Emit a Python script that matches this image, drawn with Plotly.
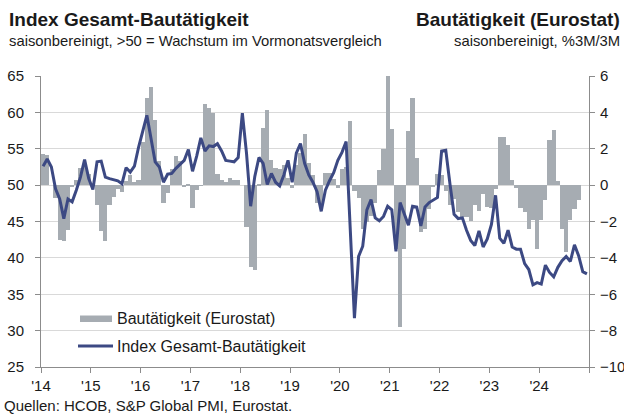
import plotly.graph_objects as go

# ---------------- data (monthly, Jan 2014 onwards) ----------------
start_year = 2014

pmi_index = [
    52.6, 53.6, 52.5, 49.5, 48.1, 45.4, 48.1, 47.7, 49.3, 51.1, 53.5, 50.9,   # 2014
    49.4, 53.2, 53.3, 51.1, 50.9, 50.7, 50.6, 50.2, 52.4, 51.8, 52.6, 55.2,   # 2015
    57.5, 59.6, 56.4, 53.2, 52.5, 50.4, 51.5, 51.6, 52.3, 52.8, 53.4, 54.9,   # 2016
    51.9, 54.0, 56.5, 54.7, 55.4, 55.3, 55.7, 54.7, 53.4, 53.3, 53.2, 53.8,   # 2017
    59.9, 54.4, 47.1, 51.2, 53.8, 53.0, 50.1, 51.6, 50.4, 49.9, 51.4, 53.4,   # 2018
    50.4, 54.4, 55.7, 53.0, 51.4, 50.4, 49.1, 46.4, 49.3, 50.6, 51.7, 53.4,   # 2019
    54.5, 56.0, 43.8, 31.7, 40.2, 41.6, 46.6, 48.0, 45.5, 45.1, 45.7, 47.1,   # 2020
    46.6, 40.9, 47.6, 46.1, 44.5, 47.1, 47.0, 44.4, 47.0, 47.6, 48.0, 48.3,   # 2021
    54.7, 54.8, 50.2, 46.0, 45.4, 45.5, 43.8, 42.4, 41.7, 43.7, 41.5, 42.6,   # 2022
    44.6, 48.6, 42.7, 42.0, 43.8, 41.5, 41.2, 41.2, 39.2, 38.4, 36.3, 36.6,   # 2023
    36.4, 39.0, 38.0, 37.4, 38.7, 39.6, 40.2, 39.5, 41.8, 40.3, 38.1, 37.8,   # 2024
]

eurostat = [
    1.72, 1.63, 0.0, -0.73, -3.0, -3.05, -2.44, -0.1, 0.26, 0.94, 1.12, 0.59,   # 2014
    0.0, -1.08, -2.5, -3.06, -1.08, -0.66, -0.22, -0.37, 0.22, 0.57, 0.17, 0.3,  # 2015
    2.37, 4.8, 5.4, 3.6, 1.3, -1.0, -0.46, 0.9, 1.6, 1.3, -0.13, 0.05,          # 2016
    -1.25, -0.28, -0.04, 4.44, 4.26, 3.94, 0.62, 0.28, 0.15, 0.37, 0.28, 0.28,   # 2017
    0.0, -2.28, -4.5, -4.65, 0.05, 3.13, 4.13, 1.38, 0.96, 0.9, 1.1, 0.37,       # 2018
    -0.18, 1.1, 1.75, 2.8, 1.2, 0.56, -1.0, -1.27, 0.65, 0.66, 0.33, -0.18,      # 2019
    0.9, 1.0, 3.5, -0.3, -0.7, -2.4, -2.0, -1.7, -1.0, 0.84, 1.97, 6.0,          # 2020
    3.07, -3.5, -7.8, -3.5, 3.0, 4.8, 1.5, -2.55, -2.4, -1.3, -0.1, 0.6,         # 2021
    0.55, -0.3, -1.1, -0.77, -1.47, -1.74, -1.74, -1.96, -1.1, -1.4, -0.5, -1.2, # 2022
    -1.28, -0.2, 2.66, 2.66, 2.2, 0.28, -0.15, -1.28, -1.47, -2.4, -1.9, -3.5,   # 2023
    -1.9, -0.8, 2.5, 3.05, 0.2, -2.4, -3.7, -1.9, -1.3, -0.8,                    # 2024
]

year_ticks = list(range(2014, 2026))
year_labels = ["'14", "'15", "'16", "'17", "'18", "'19", "'20", "'21", "'22", "'23", "'24", ""]
left_ticks = [25, 30, 35, 40, 45, 50, 55, 60, 65]
right_ticks = [-10, -8, -6, -4, -2, 0, 2, 4, 6]

name_bar = "Bautätigkeit (Eurostat)"
name_line = "Index Gesamt-Bautätigkeit"

# ---------------- style ----------------
FONT = "Liberation Sans, Arial, sans-serif"
BAR_COLOR = "#a6acb2"
LINE_COLOR = "#3c4983"
AXIS_COLOR = "#8c8c8c"
GRID_COLOR = "#d9d9d9"
TEXT = "#1a1a1a"

W, H = 624, 414
L, R, T, B = 41, 35, 76, 47


def px_x(px):
    return (px - L) / (W - L - R)


def px_y(py):
    return (H - B - py) / (H - T - B)


x_line = [start_year + (i + 0.5) / 12 for i in range(len(pmi_index))]
x_bar = [start_year + (i + 0.5) / 12 for i in range(len(eurostat))]

fig = go.Figure()
fig.add_trace(go.Bar(
    x=x_bar, y=eurostat, width=1 / 12, name=name_bar,
    marker=dict(color=BAR_COLOR, line=dict(width=0)),
    yaxis="y", showlegend=False, hoverinfo="skip",
))
fig.add_trace(go.Scatter(
    x=x_line, y=pmi_index, mode="lines", name=name_line,
    line=dict(color=LINE_COLOR, width=3),
    yaxis="y2", showlegend=False,
))

fig.update_layout(
    width=W, height=H, autosize=False,
    margin=dict(l=L, r=R, t=T, b=B, pad=0, autoexpand=False),
    paper_bgcolor="white", plot_bgcolor="white",
    font=dict(family=FONT, size=15, color=TEXT),
    bargap=0,
    xaxis=dict(
        range=[2014, 2025], tickvals=year_ticks, ticktext=year_labels, automargin=False,
        showgrid=False, zeroline=False, showline=True, linecolor=AXIS_COLOR, linewidth=1,
        ticks="outside", ticklen=5, tickcolor=AXIS_COLOR, tickfont=dict(size=15, color=TEXT),
        fixedrange=True,
    ),
    yaxis=dict(
        side="right", range=[-10, 6], tickvals=right_ticks, automargin=False,
        showgrid=True, gridcolor=GRID_COLOR, gridwidth=1, zeroline=False,
        showline=True, linecolor=AXIS_COLOR, linewidth=1,
        ticks="outside", ticklen=5, tickcolor=AXIS_COLOR, ticklabelstandoff=2,
        tickfont=dict(size=15, color=TEXT),
    ),
    yaxis2=dict(
        side="left", overlaying="y", range=[25, 65], tickvals=left_ticks, automargin=False,
        showgrid=False, zeroline=False,
        showline=True, linecolor=AXIS_COLOR, linewidth=1,
        ticks="outside", ticklen=5, tickcolor=AXIS_COLOR, ticklabelstandoff=8,
        tickfont=dict(size=15, color=TEXT),
    ),
    showlegend=False,
)

annotations = [
    dict(text="<b>Index Gesamt-Bautätigkeit</b>", x=px_x(7), y=px_y(19), xanchor="left", yanchor="middle",
         font=dict(size=19, color=TEXT)),
    dict(text="saisonbereinigt, >50 = Wachstum im Vormonatsvergleich", x=px_x(7), y=px_y(41),
         xanchor="left", yanchor="middle", font=dict(size=14.8, color=TEXT)),
    dict(text="<b>Bautätigkeit (Eurostat)</b>", x=px_x(622), y=px_y(19), xanchor="right", yanchor="middle",
         font=dict(size=19, color=TEXT)),
    dict(text="saisonbereinigt, %3M/3M", x=px_x(622), y=px_y(41), xanchor="right", yanchor="middle",
         font=dict(size=14.8, color=TEXT)),
    dict(text="Quellen: HCOB, S&P Global PMI, Eurostat.", x=px_x(2), y=px_y(405), xanchor="left",
         yanchor="middle", font=dict(size=15, color=TEXT)),
    dict(text=name_bar, x=px_x(115), y=px_y(318.5), xanchor="left", yanchor="middle",
         font=dict(size=16, color=TEXT)),
    dict(text=name_line, x=px_x(115), y=px_y(346), xanchor="left", yanchor="middle",
         font=dict(size=16, color=TEXT)),
]
for a in annotations:
    a.update(xref="paper", yref="paper", showarrow=False)
fig.update_layout(annotations=annotations)

# legend swatches
fig.add_shape(type="rect", xref="paper", yref="paper",
              x0=px_x(80), x1=px_x(112), y0=px_y(322), y1=px_y(315.5),
              fillcolor=BAR_COLOR, line=dict(width=0))
fig.add_shape(type="line", xref="paper", yref="paper",
              x0=px_x(78), x1=px_x(113), y0=px_y(346), y1=px_y(346),
              line=dict(color=LINE_COLOR, width=3))

page_css = (
    "document.documentElement.style.margin='0';"
    "document.documentElement.style.padding='0';"
    "document.documentElement.style.overflow='hidden';"
    "document.body.style.margin='0';"
    "document.body.style.padding='0';"
    "document.body.style.overflow='hidden';"
)

fig.write_html("out.html", config=dict(displayModeBar=False), post_script=page_css)
